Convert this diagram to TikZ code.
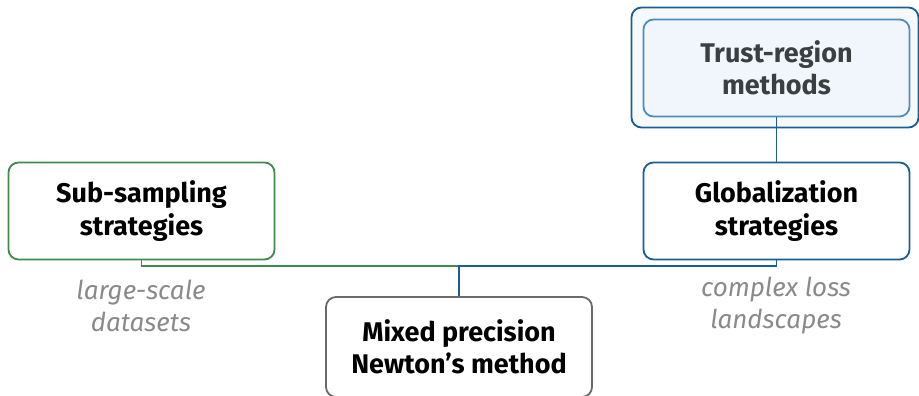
\documentclass[tikz,border=0pt]{standalone}
\usepackage{fontspec}
\setmainfont{Fira Sans}
\definecolor{grn}{HTML}{3F8A4C}
\definecolor{blu}{HTML}{1B5E91}
\definecolor{blul}{HTML}{4F8DBD}
\definecolor{fillA}{HTML}{F6F9FC}
\definecolor{fillB}{HTML}{F0F6FB}
\definecolor{gbox}{HTML}{6A6A6A}
\definecolor{note}{HTML}{8A8A8A}
\definecolor{tdark}{HTML}{3C3F42}
\begin{document}
\begin{tikzpicture}[x=1pt,y=-1pt,
  box/.style={draw,rounded corners=10pt,line width=1.8pt,minimum width=266pt,minimum height=97pt,
    align=center,font=\fontsize{27}{32.5}\selectfont\bfseries,text=black,inner sep=0pt},
  notetext/.style={align=center,font=\fontsize{26}{32}\selectfont\itshape,text=note},
  link/.style={line width=1.8pt}]
\useasboundingbox (0,0) rectangle (919,396);
\node[box,draw=blu,fill=fillA,minimum width=287pt,minimum height=120pt] (outer) at (775,67.5) {};
\node[box,draw=blul,fill=fillB,text=tdark] (trust) at (776.5,68) {Trust-region\\methods};
\node[box,draw=grn] (sub) at (141.5,211) {Sub-sampling\\strategies};
\node[box,draw=blu] (glob) at (776.5,211) {Globalization\\strategies};
\node[box,draw=gbox,minimum height=100pt] (mix) at (459,347) {Mixed precision\\Newton’s method};
\node[notetext] (n1) at (141,306) {large-scale\\datasets};
\node[notetext] (n2) at (776,306) {complex loss\\landscapes};
\coordinate (j) at (459,266);
\draw[link,grn] (sub.south) |- (j);
\draw[link,blu] (glob.south) |- (j) -- (mix.north);
\draw[link,blu] (trust.south) -- (glob.north);
\end{tikzpicture}
\end{document}
